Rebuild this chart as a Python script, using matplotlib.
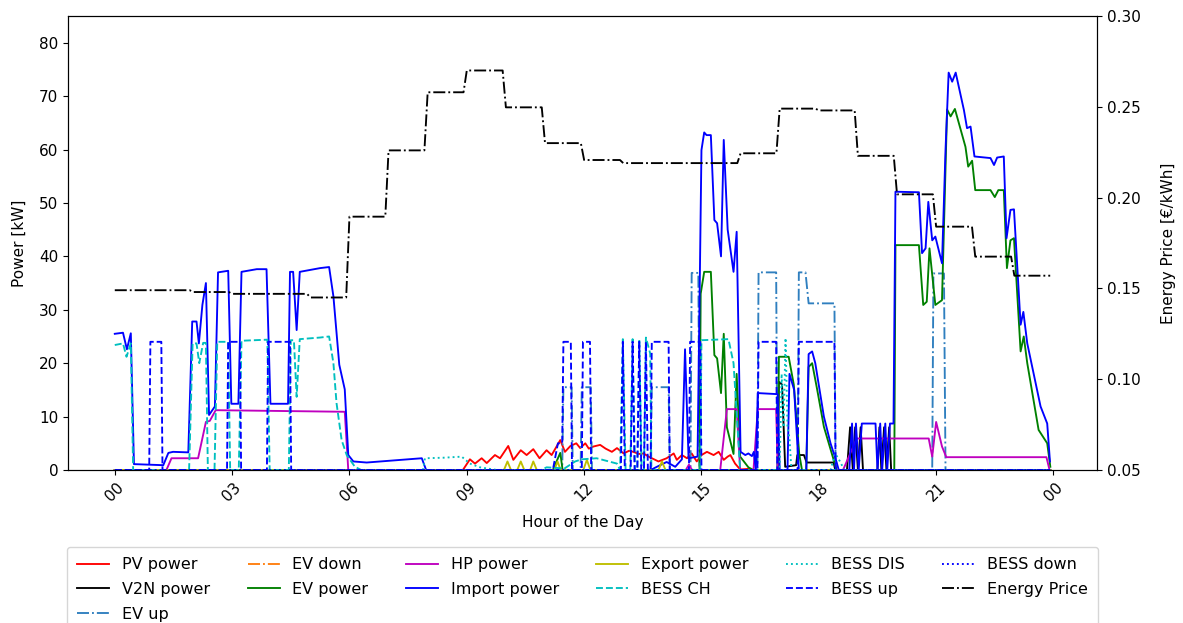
import matplotlib
matplotlib.use("Agg")
import matplotlib.pyplot as plt
import numpy as np

# (hour, kW) breakpoints
pv_power = [(0, 0), (8.9, 0), (9.08, 2.0), (9.21, 1.2), (9.38, 2.2), (9.51, 1.3), (9.72, 2.8), (9.85, 2.2),
            (10.06, 4.5), (10.19, 1.9), (10.38, 3.7), (10.53, 2.8), (10.7, 3.9), (10.86, 2.2), (11.04, 3.7),
            (11.17, 2.8), (11.39, 5.6), (11.51, 3.4), (11.65, 4.5), (11.8, 5.0), (11.9, 4.1), (12.03, 5.0),
            (12.12, 4.0), (12.24, 4.4), (12.41, 4.7), (12.55, 4.0), (12.71, 3.4), (12.84, 4.1), (13.01, 3.1),
            (13.15, 3.6), (13.26, 3.4), (13.4, 3.0), (13.52, 3.1), (13.65, 2.5), (13.9, 1.6), (14.11, 2.2),
            (14.29, 3.1), (14.37, 1.9), (14.5, 2.8), (14.63, 2.2), (14.75, 3.1), (14.88, 1.6), (15.0, 2.8),
            (15.14, 3.4), (15.31, 2.8), (15.44, 3.4), (15.57, 1.9), (15.67, 2.5), (15.74, 2.8), (15.86, 1.2),
            (15.99, 0.1), (16.2, 0.2), (16.3, 0), (23.92, 0)]

v2n_power = [(0, 0), (16.95, 0), (16.98, 16.5), (17.06, 16.0), (17.14, 0.6), (17.42, 0.9), (17.45, 2.8),
             (17.62, 2.8), (17.69, 1.4), (18.38, 1.4), (18.42, 0), (18.72, 0), (18.8, 8), (18.87, 0),
             (18.93, 8), (19.0, 0), (19.07, 8), (19.13, 0), (19.5, 0), (19.55, 8), (19.6, 0), (19.67, 8),
             (19.73, 0), (19.8, 8), (19.85, 0), (23.92, 0)]

ev_up = [(0, 0), (11.44, 0), (11.47, 15.5), (11.68, 15.5), (11.71, 0), (11.91, 0), (11.94, 15.5),
         (12.17, 15.5), (12.2, 0), (13.7, 0), (13.73, 15.5), (14.16, 15.5), (14.19, 0), (14.72, 0),
         (14.75, 36.9), (14.92, 36.9), (14.95, 0), (16.43, 0), (16.46, 37), (16.91, 37), (16.94, 0),
         (17.46, 0), (17.49, 37), (17.66, 37), (17.74, 31.2), (18.4, 31.2), (18.43, 0), (20.9, 0),
         (20.93, 36.8), (21.2, 36.8), (21.24, 0), (23.92, 0)]

ev_down = [(0, 0), (23.92, 0)]

ev_power = [(0, 0), (11.2, 0), (11.39, 3.2), (11.45, 0), (14.95, 0), (14.98, 33), (15.07, 37.1), (15.24, 37.1),
            (15.33, 21.5), (15.4, 20.9), (15.5, 14.4), (15.57, 25.5), (15.65, 8), (15.82, 3), (15.9, 18),
            (15.99, 2.5), (16.2, 0.5), (16.33, 0), (16.95, 0), (16.98, 21.2), (17.23, 21.2), (17.36, 16),
            (17.5, 3), (17.57, 0), (17.68, 0), (17.74, 19.3), (17.83, 20), (17.96, 15), (18.13, 8.1),
            (18.38, 1.9), (18.46, 0), (19.93, 0), (19.96, 42.1), (20.56, 42.1), (20.67, 30.9), (20.76, 31.5),
            (20.83, 41.5), (20.98, 30.9), (21.15, 31.8), (21.28, 67.5), (21.37, 66.2), (21.48, 67.6),
            (21.75, 60.5), (21.82, 56.8), (21.92, 57.9), (22.0, 52.4), (22.39, 52.4), (22.5, 51.1),
            (22.59, 52.4), (22.73, 52.4), (22.81, 37.8), (22.9, 43), (22.99, 43.4), (23.16, 22.2),
            (23.24, 25), (23.33, 20), (23.62, 7.5), (23.84, 5), (23.92, 0.6)]

hp_power = [(0, 0), (1.32, 0), (1.45, 2.2), (2.13, 2.2), (2.33, 9.0), (2.43, 9.2), (2.58, 11.2), (5.88, 10.9),
            (5.97, 0), (14.6, 0), (14.68, 1.0), (14.76, 0), (15.48, 0), (15.65, 11.4), (15.9, 11.4), (15.99, 0),
            (16.33, 0), (16.44, 11.4), (16.91, 11.4), (16.95, 0), (18.62, 0), (18.97, 5.9), (20.81, 5.9),
            (20.9, 2.5), (21.0, 9.0), (21.15, 4.4), (21.26, 2.4), (23.82, 2.4), (23.9, 0)]

import_power = [(0, 25.5), (0.21, 25.7), (0.31, 22.6), (0.41, 25.6), (0.49, 1.1), (1.24, 0.9), (1.37, 3.2),
                (1.49, 3.4), (1.88, 3.3), (1.98, 27.8), (2.09, 27.8), (2.15, 23.7), (2.24, 30.9), (2.33, 35),
                (2.41, 10.3), (2.56, 11.9), (2.64, 37), (2.9, 37.3), (2.98, 12.4), (3.16, 12.4), (3.24, 37.1),
                (3.63, 37.6), (3.88, 37.6), (3.98, 12.4), (4.43, 12.4), (4.48, 37.1), (4.56, 37.1), (4.65, 26.2),
                (4.73, 37.1), (5.25, 37.8), (5.48, 38.0), (5.59, 32.5), (5.74, 19.7), (5.88, 15.1), (5.97, 2.8),
                (6.1, 1.6), (6.44, 1.4), (7.85, 2.2), (7.96, 0), (13.7, 0), (13.86, 0.6), (14.11, 1.5),
                (14.33, 0.6), (14.5, 2.0), (14.58, 22.6), (14.67, 2.2), (14.9, 2.5), (15.0, 59.9), (15.07, 63.2),
                (15.13, 62.7), (15.24, 62.7), (15.33, 46.8), (15.4, 46.2), (15.5, 40), (15.57, 61.8), (15.67, 45),
                (15.82, 37.1), (15.9, 44.6), (16.0, 3.4), (16.12, 2.8), (16.2, 3.1), (16.29, 2.6), (16.34, 3.4),
                (16.39, 0), (16.44, 14.4), (16.95, 14.2), (17.0, 0), (17.2, 0), (17.25, 18), (17.37, 15),
                (17.49, 0), (17.68, 0), (17.74, 21.7), (17.83, 22.2), (17.91, 20), (18.13, 10), (18.3, 5),
                (18.45, 1.6), (18.51, 0), (18.78, 0), (18.85, 8.7), (18.9, 0), (18.95, 8.7), (19.02, 0),
                (19.1, 8.7), (19.45, 8.7), (19.5, 0), (19.57, 8.7), (19.62, 0), (19.7, 8.7), (19.75, 0),
                (19.82, 8.7), (19.91, 8.7), (19.96, 52.1), (20.56, 52), (20.64, 40.6), (20.73, 41.5),
                (20.8, 50.2), (20.9, 43), (20.98, 43.7), (21.15, 38.7), (21.24, 59.9), (21.32, 74.4),
                (21.41, 72.7), (21.5, 74.4), (21.71, 67.4), (21.79, 64), (21.88, 64.3), (21.98, 58.7),
                (22.39, 58.4), (22.48, 57.1), (22.56, 58.5), (22.73, 58.7), (22.8, 43.4), (22.9, 48.7),
                (22.99, 48.8), (23.16, 27.2), (23.23, 29.6), (23.33, 23.7), (23.67, 11.9), (23.84, 8.7),
                (23.91, 1.6)]

export_power = [(0, 0), (9.95, 0), (10.04, 1.6), (10.13, 0), (10.29, 0), (10.38, 1.6), (10.47, 0), (10.62, 0),
                (10.7, 1.6), (10.79, 0), (11.24, 0), (11.32, 1.6), (11.4, 0), (11.98, 0), (12.07, 1.9),
                (12.16, 0), (13.9, 0), (13.99, 1.6), (14.08, 0), (23.92, 0)]

bess_ch = [(0, 23.4), (0.21, 23.7), (0.3, 21.2), (0.41, 23.7), (0.47, 0), (1.9, 0), (1.99, 23.7), (2.09, 23.7),
           (2.16, 20), (2.26, 23.8), (2.33, 23.8), (2.38, 0), (2.55, 0), (2.62, 24), (2.9, 24), (2.95, 0),
           (3.17, 0), (3.24, 24.2), (3.9, 24.4), (3.96, 0), (4.45, 0), (4.5, 24.3), (4.58, 24.3), (4.65, 13.7),
           (4.73, 24.5), (5.25, 24.8), (5.48, 25), (5.59, 20), (5.67, 12.5), (5.8, 5.6), (5.93, 2.8),
           (6.14, 0.6), (6.3, 0), (10.9, 0), (11.04, 0.5), (11.5, 0.3), (11.77, 1.6), (11.94, 2.0),
           (12.32, 2.2), (12.84, 1.2), (12.92, 0), (12.99, 24.5), (13.06, 0), (13.18, 0), (13.24, 24.5),
           (13.3, 0), (13.36, 0), (13.41, 24.5), (13.47, 0), (13.53, 0), (13.58, 24.8), (13.69, 21.8),
           (13.72, 0), (14.97, 0), (15.0, 24.3), (15.69, 24.5), (15.82, 20), (15.99, 0), (23.92, 0)]

bess_dis = [(0, 0), (7.88, 0), (7.93, 2.2), (8.4, 2.3), (8.87, 2.5), (9.08, 1.2), (9.34, 0.5), (9.77, 0),
            (17.0, 0), (17.05, 18), (17.1, 8), (17.15, 24.7), (17.2, 8), (17.25, 6), (17.3, 0), (18.3, 0),
            (18.42, 3.1), (18.55, 1.5), (18.65, 0), (23.92, 0)]

bess_up = [(0, 0), (0.88, 0), (0.91, 24), (1.19, 24), (1.22, 0), (2.87, 0), (2.9, 24), (3.2, 24), (3.23, 0),
           (3.89, 0), (3.92, 24), (4.48, 24), (4.51, 0), (11.2, 0), (11.33, 5), (11.44, 5), (11.47, 24),
           (11.66, 24), (11.69, 0), (11.94, 0), (11.97, 24), (12.15, 24), (12.18, 0), (12.94, 0), (12.99, 24),
           (13.04, 0), (13.19, 0), (13.24, 24), (13.29, 0), (13.36, 0), (13.41, 24), (13.46, 0), (13.53, 0),
           (13.58, 24), (13.63, 0), (13.7, 0), (13.73, 24), (14.16, 24), (14.19, 0), (14.68, 0), (14.71, 24),
           (14.97, 24), (15.0, 0), (16.43, 0), (16.46, 24), (16.91, 24), (16.94, 0), (17.46, 0), (17.49, 24),
           (18.4, 24), (18.43, 0), (23.92, 0)]

bess_down = [(0, 0), (23.92, 0)]

# hourly energy price [EUR/kWh], held over each 5-minute step
hourly_price = [0.149, 0.149, 0.148, 0.147, 0.147, 0.145, 0.1895, 0.226, 0.258, 0.270, 0.2497, 0.230,
                0.2207, 0.219, 0.219, 0.219, 0.2244, 0.249, 0.248, 0.223, 0.2018, 0.184, 0.1675, 0.157]

tick_hours = [0, 3, 6, 9, 12, 15, 18, 21, 24]
tick_labels = ["00", "03", "06", "09", "12", "15", "18", "21", "00"]

series = [
    ("PV power", pv_power, dict(color="r", linestyle="-")),
    ("V2N power", v2n_power, dict(color="k", linestyle="-")),
    ("EV up", ev_up, dict(color="#2f7fbf", linestyle="-.")),
    ("EV down", ev_down, dict(color="tab:orange", linestyle="-.")),
    ("EV power", ev_power, dict(color="g", linestyle="-")),
    ("HP power", hp_power, dict(color="m", linestyle="-")),
    ("Import power", import_power, dict(color="b", linestyle="-")),
    ("Export power", export_power, dict(color="y", linestyle="-")),
    ("BESS CH", bess_ch, dict(color="c", linestyle="--")),
    ("BESS DIS", bess_dis, dict(color="c", linestyle=":")),
    ("BESS up", bess_up, dict(color="b", linestyle="--")),
    ("BESS down", bess_down, dict(color="b", linestyle=":")),
]

fig = plt.figure(figsize=(11.83, 6.23), dpi=100)
ax = fig.add_axes([68 / 1183, 1 - 470 / 623, 1029 / 1183, 454 / 623])
ax2 = ax.twinx()

for label, pts, style in series:
    t, kw = zip(*pts)
    ax.plot(t, kw, label=label, linewidth=1.35, **style)

t5 = np.arange(len(hourly_price) * 12) / 12
price5 = np.repeat(hourly_price, 12)
ax2.plot(t5, price5, "k-.", linewidth=1.35, label="Energy Price")

ax.set_xlim(-1.196, 25.113)
ax.set_ylim(0, 85)
ax2.set_ylim(0.05, 0.30)
ax.set_xticks(tick_hours)
ax.set_xticklabels(tick_labels, rotation=45)
ax.set_yticks(np.arange(0, 81, 10))
ax2.set_yticks(np.arange(0.05, 0.301, 0.05))
ax2.set_yticklabels([f"{v:.2f}" for v in np.arange(0.05, 0.301, 0.05)])

ax.tick_params(labelsize=11)
ax2.tick_params(labelsize=11)
ax.set_xlabel("Hour of the Day", fontsize=11, labelpad=8)
ax.set_ylabel("Power [kW]", fontsize=11, labelpad=9)
ax2.set_ylabel("Energy Price [€/kWh]", fontsize=11, labelpad=15)

h1, l1 = ax.get_legend_handles_labels()
h2, l2 = ax2.get_legend_handles_labels()
ax.legend(h1 + h2, l1 + l2, loc="upper center", bbox_to_anchor=(0.5, -0.152), ncol=6, fontsize=11.5,
          handlelength=2.0, columnspacing=2.35, borderpad=0.65, labelspacing=0.6)

fig.savefig("out.png", dpi=100)
